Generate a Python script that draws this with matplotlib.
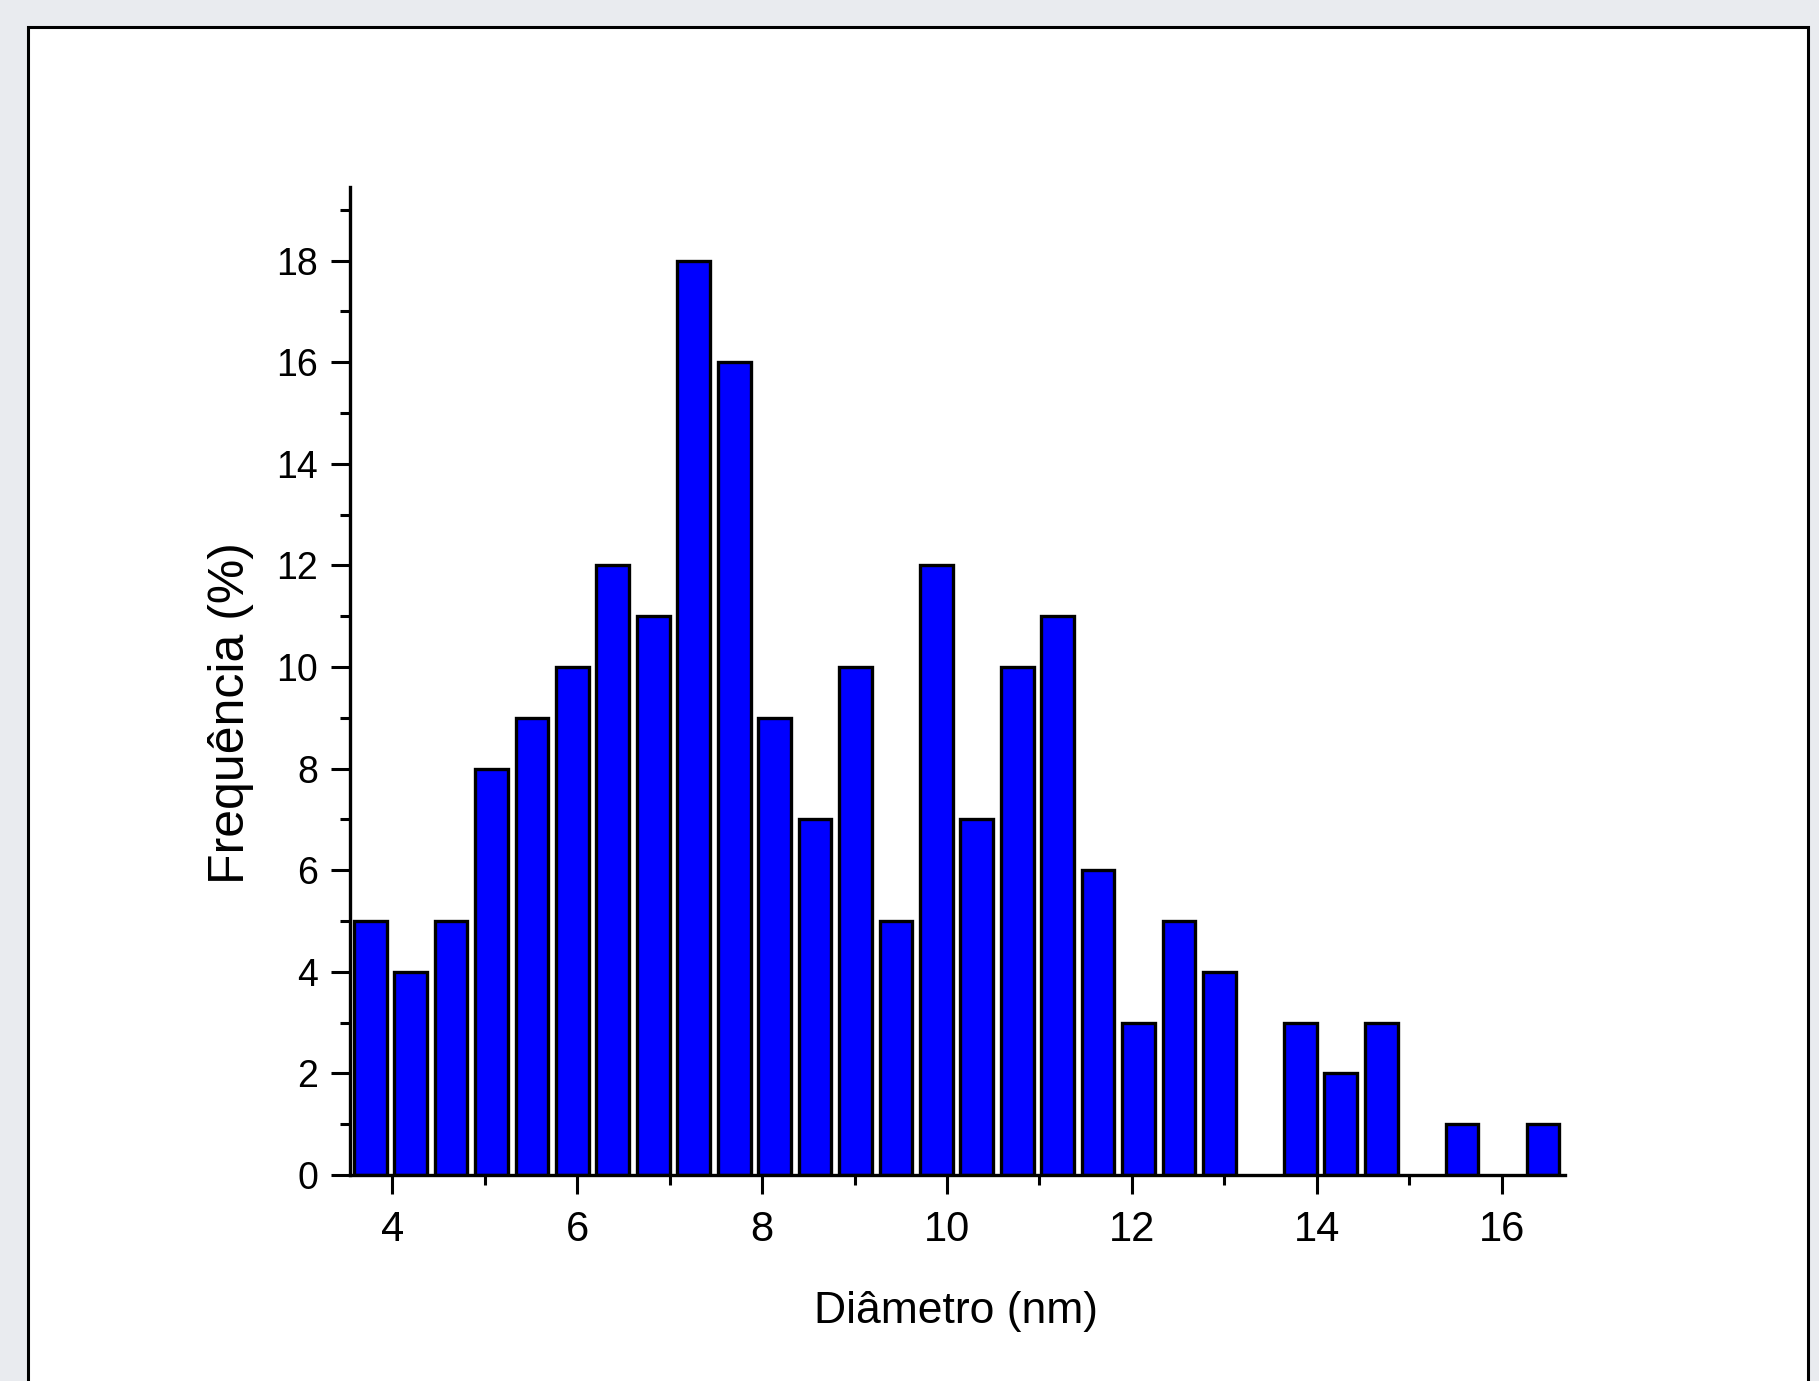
import matplotlib
matplotlib.use("Agg")
import matplotlib.pyplot as plt
from matplotlib.patches import Rectangle
from matplotlib.ticker import MultipleLocator

# Data
bin_start = 3.76          # centre of first bin (nm)
bin_width = 0.4375        # bin width (nm)
frequencies = [5, 4, 5, 8, 9, 10, 12, 11, 18, 16, 9, 7, 10, 5, 12, 7, 10, 11,
               6, 3, 5, 4, 0, 3, 2, 3, 0, 1, 0, 1]
centers = [bin_start + i * bin_width for i in range(len(frequencies))]
x_ticks = [4, 6, 8, 10, 12, 14, 16]
y_ticks = [0, 2, 4, 6, 8, 10, 12, 14, 16, 18]
x_label = 'Diâmetro (nm)'
y_label = 'Frequência (%)'

plt.rcParams['font.family'] = ['Liberation Sans', 'DejaVu Sans']

W, H = 1819, 1381
fig = plt.figure(figsize=(W / 100, H / 100), dpi=100)
fig.patch.set_facecolor('#e9ebef')

# background axes holding the white framed panel
bg = fig.add_axes([0, 0, 1, 1], zorder=-5)
bg.set_xlim(0, W)
bg.set_ylim(H, 0)
bg.axis('off')
bg.add_patch(Rectangle((28, 27), 1808 - 28, 1400, facecolor='white',
                       edgecolor='black', linewidth=2.2))

ax = fig.add_axes([350 / W, 1 - 1175 / H, (1565 - 350) / W, (1175 - 187) / H],
                  zorder=1)
ax.set_facecolor('none')

nonzero = [(c, f) for c, f in zip(centers, frequencies) if f > 0]
ax.bar([c for c, f in nonzero], [f for c, f in nonzero], width=bin_width * 0.81,
       color='#0000ff', edgecolor='black', linewidth=2.4, zorder=2)

ax.set_xlim(bin_start - bin_width / 2, centers[-1] + bin_width / 2 + 0.02)
ax.set_ylim(0, 19.45)

ax.set_xticks(x_ticks)
ax.set_yticks(y_ticks)
ax.xaxis.set_minor_locator(MultipleLocator(1))
ax.yaxis.set_minor_locator(MultipleLocator(1))

for s in ['top', 'right']:
    ax.spines[s].set_visible(False)
for s in ['left', 'bottom']:
    ax.spines[s].set_linewidth(2.4)
    ax.spines[s].set_zorder(3)

ax.tick_params(axis='both', which='major', direction='out', length=14, width=2.2,
               color='black', pad=9)
ax.tick_params(axis='both', which='minor', direction='out', length=7.5, width=2.2,
               color='black')
ax.tick_params(axis='x', labelsize=30, pad=11)
ax.tick_params(axis='y', labelsize=27)

fig.text(956 / W, 1 - 1311 / H, x_label, fontsize=32, ha='center', va='center')
fig.text(231 / W, 1 - 713 / H, y_label, fontsize=36, ha='center', va='center',
         rotation=90)

fig.savefig('out.png', dpi=100, facecolor=fig.get_facecolor())
